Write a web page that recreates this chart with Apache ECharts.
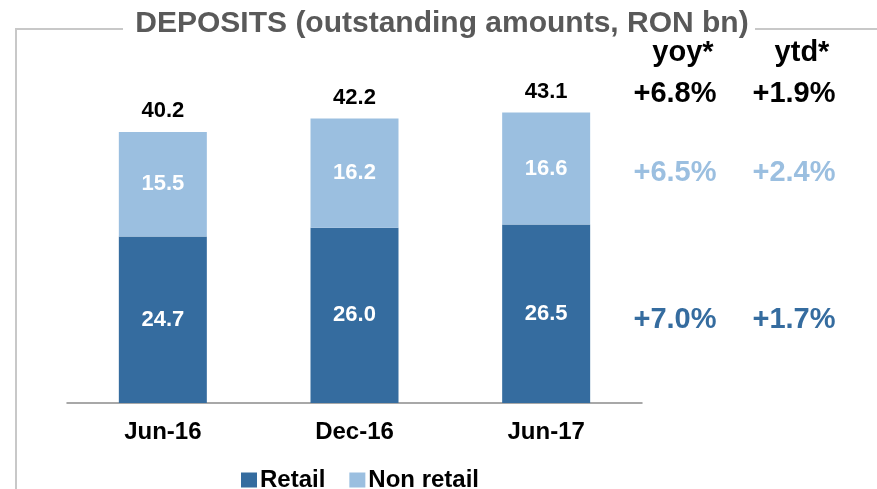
<!DOCTYPE html>
<html>
<head>
<meta charset="utf-8">
<script src="https://cdn.jsdelivr.net/npm/echarts@6/dist/echarts.min.js"></script>
<style>
  html, body { margin: 0; padding: 0; background: #fff; }
  #chart { width: 877px; height: 489px; }
</style>
</head>
<body>
<div id="chart"></div>
<script>
const categories = ['Jun-16', 'Dec-16', 'Jun-17']
const retail = [24.7, 26.0, 26.5]
const nonRetail = [15.5, 16.2, 16.6]
const totals = [40.2, 42.2, 43.1]
const yoyLabels = ['+6.8%', '+6.5%', '+7.0%']
const ytdLabels = ['+1.9%', '+2.4%', '+1.7%']

const DARK = '#356c9f'
const LIGHT = '#9bbfe0'
const FONT = '"Liberation Sans", Arial, sans-serif'

const chart = echarts.init(document.getElementById('chart'))

// growth columns on the right: [text, x centre, y centre, colour]
const rowY = [94, 173, 320]
const rowColors = ['#000000', LIGHT, DARK]
const sideTexts = []
yoyLabels.forEach((t, i) => sideTexts.push([t, 675, rowY[i], rowColors[i]]))
ytdLabels.forEach((t, i) => sideTexts.push([t, 794, rowY[i], rowColors[i]]))
sideTexts.push(['yoy*', 683, 53, '#000000'])
sideTexts.push(['ytd*', 802, 53, '#000000'])

chart.setOption({
  animation: false,
  textStyle: { fontFamily: FONT },
  legend: {
    data: ['Retail', 'Non retail'],
    left: 236,
    top: 463,
    icon: 'rect',
    itemWidth: 16,
    itemHeight: 15,
    itemGap: 24,
    textStyle: { color: '#000', fontSize: 24, fontWeight: 'bold', padding: [0, 0, 0, -2] },
  },
  grid: { left: 67, right: 235, top: 66, bottom: 86 },
  xAxis: {
    type: 'category',
    data: categories,
    axisLine: { lineStyle: { color: '#8c8c8c', width: 1.5 } },
    axisTick: { length: 6, lineStyle: { color: '#8c8c8c', width: 1.5 } },
    axisLabel: { color: '#000', fontSize: 24, fontWeight: 'bold', margin: 17 },
  },
  yAxis: { type: 'value', min: 0, max: 50, show: false, splitLine: { show: false } },
  graphic: [
    { type: 'polyline', shape: { points: [[123, 29], [16, 29], [16, 489]] }, style: { stroke: '#c8c8c8', lineWidth: 2, fill: null } },
    { type: 'line', shape: { x1: 755, y1: 29, x2: 877, y2: 29 }, style: { stroke: '#c8c8c8', lineWidth: 2 } },
    {
      type: 'text',
      x: 442,
      y: 24,
      style: {
        text: 'DEPOSITS (outstanding amounts, RON bn)',
        fill: '#595959',
        font: 'bold 30px ' + FONT,
        textAlign: 'center',
        textVerticalAlign: 'middle',
      },
    },
    ...sideTexts.map(([t, x, y, c]) => ({
      type: 'text',
      x, y,
      style: { text: t, fill: c, font: 'bold 29px ' + FONT, textAlign: 'center', textVerticalAlign: 'middle' },
    })),
  ],
  series: [
    {
      name: 'Retail',
      type: 'bar',
      stack: 'dep',
      barWidth: 88,
      data: retail,
      itemStyle: { color: DARK },
      label: { show: true, position: 'inside', color: '#fff', fontSize: 22, fontWeight: 'bold', formatter: (p) => p.value.toFixed(1) },
    },
    {
      name: 'Non retail',
      type: 'bar',
      stack: 'dep',
      barWidth: 88,
      data: nonRetail,
      itemStyle: { color: LIGHT },
      label: { show: true, position: 'inside', color: '#fff', fontSize: 22, fontWeight: 'bold', formatter: (p) => p.value.toFixed(1) },
    },
    {
      name: 'Total',
      type: 'bar',
      barWidth: 88,
      barGap: '-100%',
      z: 1,
      data: totals,
      itemStyle: { color: 'rgba(0,0,0,0)' },
      label: { show: true, position: 'top', distance: 10, color: '#000', fontSize: 22, fontWeight: 'bold', formatter: (p) => p.value.toFixed(1) },
    },
  ],
})
</script>
</body>
</html>
